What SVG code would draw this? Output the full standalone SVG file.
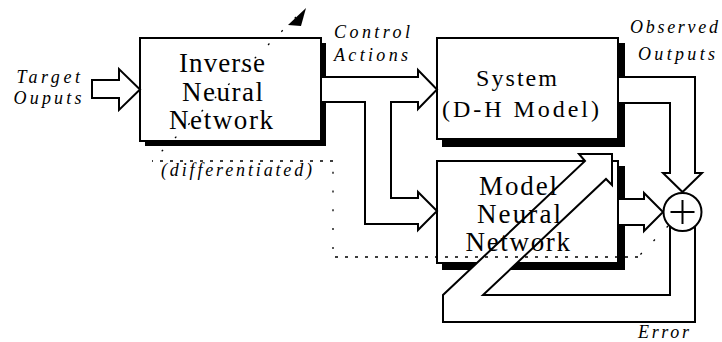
<svg xmlns="http://www.w3.org/2000/svg" width="722" height="342" viewBox="0 0 722 342">
  <defs>
    <style>
      .shadow { fill: #000; }
      .box { fill: #fff; stroke: #000; stroke-width: 2; }
      .node-text { font-family: "Liberation Serif", "Times New Roman", serif; font-size: 27px; fill: #000; }
      .plant-text { font-family: "Liberation Serif", "Times New Roman", serif; font-size: 24px; fill: #000; }
      .label { font-family: "Liberation Serif", "Times New Roman", serif; font-style: italic; font-size: 18px; fill: #000; }
      .pipe { fill: #fff; stroke: #000; stroke-width: 2; stroke-linejoin: miter; }
      .pipe-fill { fill: #fff; stroke: none; }
      .pipe-edge { fill: none; stroke: #000; stroke-width: 2; stroke-linejoin: miter; }
      .grad { fill: none; stroke: #000; stroke-width: 1.3; }
      .fine { stroke-dasharray: 3 7; }
      .sparse { stroke-dasharray: 2 16.8; }
    </style>
    <!-- everything except the interior of the model network box -->
    <clipPath id="outside-model">
      <path clip-rule="evenodd" d="M0,0H722V342H0Z M438,162H617V262H438Z"/>
    </clipPath>
  </defs>

  <rect width="722" height="342" fill="#fff"/>

  <g id="inverse-nn">
    <rect class="shadow" x="145" y="43" width="181" height="103"/>
    <rect class="box" x="140" y="38" width="181" height="103"/>
    <text class="node-text" x="179" y="72" textLength="86" lengthAdjust="spacing">Inverse</text>
    <text class="node-text" x="182" y="100.5" textLength="81" lengthAdjust="spacing">Neural</text>
    <text class="node-text" x="169" y="128.5" textLength="104" lengthAdjust="spacing">Network</text>
  </g>

  <g id="system">
    <rect class="shadow" x="442" y="43" width="183" height="104"/>
    <rect class="box" x="437" y="38" width="181" height="101"/>
    <text class="plant-text" x="476" y="86" textLength="81" lengthAdjust="spacing">System</text>
    <text class="plant-text" x="442" y="117" textLength="157" lengthAdjust="spacing">(D-H Model)</text>
  </g>

  <g id="model-nn">
    <rect class="shadow" x="442" y="166" width="183" height="104"/>
    <rect class="box" x="437" y="161" width="181" height="102"/>
    <text class="node-text" x="479" y="194.5" textLength="78" lengthAdjust="spacing">Model</text>
    <text class="node-text" x="477" y="222.5" textLength="84" lengthAdjust="spacing">Neural</text>
    <text class="node-text" x="465.5" y="250.5" textLength="104.5" lengthAdjust="spacing">Network</text>
  </g>

  <g id="connectors">
    <!-- target outputs into the inverse network -->
    <path class="pipe" d="M92,80 H119 V69 L140,89.5 L119,110 V98 H92 Z"/>
    <!-- control actions, split to the plant and to the model -->
    <path class="pipe" d="M322,77 H418 V70 L437,89.5 L418,109 V102 H391 V198 H418 V192 L437,211 L418,230 V224 H365 V102 H322"/>
    <!-- observed outputs down into the summing junction -->
    <path class="pipe" d="M619,77 H695 V173 H702 L682.5,192 L663,173 H670 V103 H619"/>
    <!-- model prediction into the summing junction -->
    <path class="pipe" d="M619,199 H644 V193 L663,212 L644,231 V225 H619"/>
    <!-- error fed back to the model network -->
    <path class="pipe-fill" clip-path="url(#outside-model)" d="M670,224 V295 H483 L606,179 L612,185 V154 H579 L585,161 L443,295 V322 H695 V224 Z"/>
    <path class="pipe-edge" d="M670,224 V295 H483 L606,179 L612,185 V154 H579 L585,161 L443,295 V322 H695 V224"/>
    <!-- differentiated error path back through the inverse network -->
    <g id="backprop">
      <line class="grad sparse" x1="668" y1="226" x2="638" y2="257"/>
      <line class="grad fine" x1="638" y1="257" x2="333" y2="257"/>
      <line class="grad sparse" x1="333" y1="257" x2="333" y2="161" style="stroke-dashoffset:10.7"/>
      <line class="grad fine" x1="333" y1="161" x2="152" y2="161"/>
      <line class="grad sparse" x1="152" y1="161" x2="296" y2="17" style="stroke-dashoffset:5.1"/>
      <polygon points="288,25 306,8 301,26" fill="#000"/>
    </g>
  </g>

  <g id="sum">
    <circle cx="682.5" cy="212" r="19" fill="#fff" stroke="#000" stroke-width="2"/>
    <path d="M670.5,212 H694.5 M682.5,200 V224" stroke="#000" stroke-width="2" fill="none"/>
  </g>

  <g id="labels">
    <text class="label" x="16.5" y="83" textLength="63.5" lengthAdjust="spacing">Target</text>
    <text class="label" x="13.5" y="104" textLength="68" lengthAdjust="spacing">Ouputs</text>
    <text class="label" x="334" y="38" textLength="76" lengthAdjust="spacing">Control</text>
    <text class="label" x="334" y="60.5" textLength="74" lengthAdjust="spacing">Actions</text>
    <text class="label" x="630" y="33" textLength="88" lengthAdjust="spacing">Observed</text>
    <text class="label" x="638" y="60" textLength="77" lengthAdjust="spacing">Outputs</text>
    <text class="label" x="161" y="176" textLength="151" lengthAdjust="spacing">(differentiated)</text>
    <text class="label" x="638" y="338" textLength="51" lengthAdjust="spacing">Error</text>
  </g>
</svg>
